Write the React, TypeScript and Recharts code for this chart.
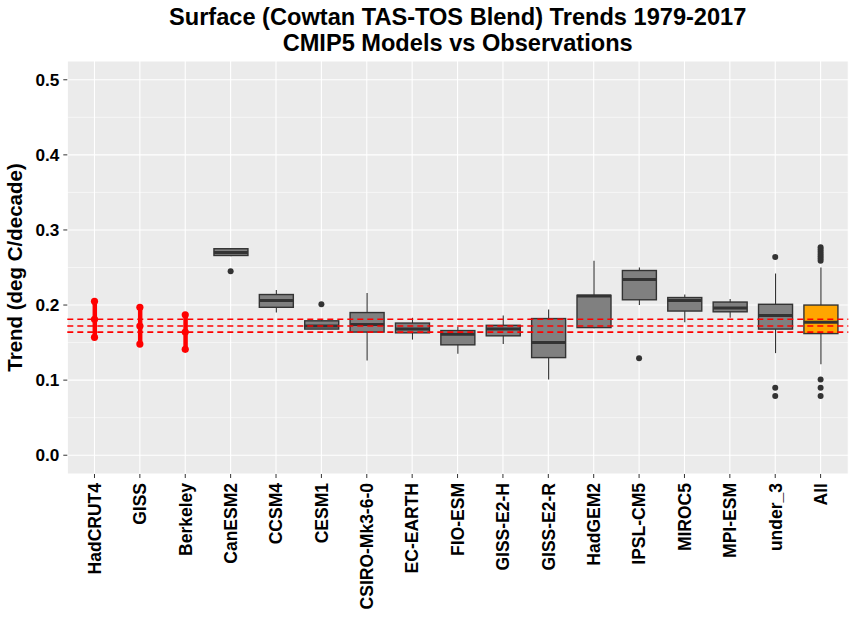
import {
  ComposedChart,
  Bar,
  Line,
  XAxis,
  YAxis,
  CartesianGrid,
  ReferenceLine,
} from "recharts";

// observations: centre trend and the range drawn as a red bar
const obsNames = ["HadCRUT4", "GISS", "Berkeley"];
const obsMid = [0.181, 0.172, 0.164];
const obsLow = [0.157, 0.148, 0.141];
const obsHigh = [0.205, 0.197, 0.187];

// model ensembles (box plot stats)
const modelNames = [
  "CanESM2", "CCSM4", "CESM1", "CSIRO-Mk3-6-0", "EC-EARTH", "FIO-ESM", "GISS-E2-H",
  "GISS-E2-R", "HadGEM2", "IPSL-CM5", "MIROC5", "MPI-ESM", "under_3", "All",
];
const whiskerLow = [0.265, 0.19, 0.168, 0.126, 0.154, 0.135, 0.148, 0.101, 0.169, 0.2, 0.177, 0.183, 0.136, 0.121];
const q1 = [0.266, 0.197, 0.168, 0.164, 0.163, 0.147, 0.159, 0.13, 0.17, 0.207, 0.192, 0.191, 0.168, 0.162];
const median = [0.27, 0.206, 0.172, 0.174, 0.168, 0.161, 0.168, 0.15, 0.212, 0.234, 0.206, 0.196, 0.186, 0.177];
const q3 = [0.275, 0.214, 0.179, 0.19, 0.176, 0.166, 0.173, 0.182, 0.213, 0.246, 0.21, 0.204, 0.201, 0.2];
const whiskerHigh = [0.276, 0.22, 0.18, 0.216, 0.183, 0.171, 0.186, 0.194, 0.259, 0.25, 0.214, 0.208, 0.242, 0.25];

const outliers: Record<string, number[]> = {
  CanESM2: [0.245],
  CESM1: [0.201],
  "IPSL-CM5": [0.129],
  under_3: [0.264, 0.09, 0.079],
  All: [0.277, 0.274, 0.271, 0.268, 0.265, 0.262, 0.259, 0.101, 0.09, 0.079],
};

const yTicks = [0, 0.1, 0.2, 0.3, 0.4, 0.5];
const yMinor = [0.05, 0.15, 0.25, 0.35, 0.45];
const MAX_OUT = 10;
const outKeys = Array.from({ length: MAX_OUT }, (_, i) => `out${i}`);

const data = [
  ...obsNames.map((name, i) => ({
    name,
    kind: "obs",
    span: [obsLow[i], obsHigh[i]],
    obsLo: obsLow[i],
    obsMid: obsMid[i],
    obsHi: obsHigh[i],
  })),
  ...modelNames.map((name, i) => {
    const row: any = {
      name,
      kind: "model",
      span: [whiskerLow[i], whiskerHigh[i]],
      box: [q1[i], q3[i]],
      med: median[i],
      fill: name === "All" ? "#FFA500" : "#808080",
    };
    (outliers[name] || []).forEach((v, j) => (row[`out${j}`] = v));
    return row;
  }),
];

const font = "'Liberation Sans', Arial, sans-serif";

function SpanShape(props: any) {
  const { x, y, width, height, payload } = props;
  const cx = x + width / 2;
  const top = Math.min(y, y + height);
  const bottom = Math.max(y, y + height);
  if (payload.kind === "obs") {
    return <line x1={cx} x2={cx} y1={top} y2={bottom} stroke="#FF0000" strokeWidth={4.5} />;
  }
  return <line x1={cx} x2={cx} y1={top} y2={bottom} stroke="#333333" strokeWidth={1.1} />;
}

function BoxShape(props: any) {
  const { x, y, width, height, payload } = props;
  const top = Math.min(y, y + height);
  const h = Math.abs(height);
  const [lo, hi] = payload.box;
  const my = top + (h * (hi - payload.med)) / (hi - lo);
  return (
    <g>
      <rect x={x} y={top} width={width} height={h} fill={payload.fill} stroke="#333333" strokeWidth={1.4} />
      <line x1={x} x2={x + width} y1={my} y2={my} stroke="#333333" strokeWidth={3} />
    </g>
  );
}

function XTick({ x, y, payload }: any) {
  return (
    <text
      x={x}
      y={y}
      dy="0.36em"
      transform={`rotate(-90 ${x} ${y})`}
      textAnchor="end"
      fontFamily={font}
      fontWeight="bold"
      fontSize={17.5}
      fill="#000"
    >
      {payload.value}
    </text>
  );
}

export default function App() {
  return (
    <div style={{ position: "relative", width: 856, height: 642 }}>
      <style>{"body{margin:0;background:#fff}"}</style>
      <ComposedChart
        width={856}
        height={642}
        data={data}
        margin={{ top: 61, right: 7.7, left: 0, bottom: 0 }}
        barCategoryGap={0}
      >
        <CartesianGrid xAxisId="cat" fill="#EBEBEB" fillOpacity={1} stroke="#FFFFFF" strokeWidth={1.1} />
        <CartesianGrid xAxisId="cat" vertical={false} horizontalValues={yMinor} stroke="#FFFFFF" strokeWidth={0.55} />
        <XAxis
          xAxisId="cat"
          dataKey="name"
          type="category"
          height={168}
          padding={{ left: 4.5, right: 5 }}
          interval={0}
          axisLine={false}
          tickSize={4}
          tickMargin={5}
          tickLine={{ stroke: "#333333" }}
          tick={<XTick />}
        />
        <XAxis xAxisId="w" dataKey="name" type="category" hide padding={{ left: 4.5, right: 5 }} />
        <YAxis
          domain={[-0.025, 0.525]}
          allowDataOverflow
          ticks={yTicks}
          tickFormatter={(v) => v.toFixed(1)}
          width={67.3}
          axisLine={false}
          tickSize={4}
          tickMargin={4}
          tickLine={{ stroke: "#333333" }}
          tick={{ fill: "#000", fontSize: 17.2, fontWeight: "bold", fontFamily: font }}
        />
        <Bar xAxisId="w" dataKey="span" barSize={34} shape={<SpanShape />} isAnimationActive={false} />
        <Bar xAxisId="cat" dataKey="box" barSize={34} shape={<BoxShape />} isAnimationActive={false} />
        {outKeys.map((k) => (
          <Line
            key={k}
            xAxisId="cat"
            dataKey={k}
            stroke="none"
            dot={{ r: 3, fill: "#333333", stroke: "none" }}
            activeDot={false}
            isAnimationActive={false}
          />
        ))}
        {["obsLo", "obsMid", "obsHi"].map((k) => (
          <Line
            key={k}
            xAxisId="cat"
            dataKey={k}
            stroke="none"
            dot={{ r: 3.6, fill: "#FF0000", stroke: "none" }}
            activeDot={false}
            isAnimationActive={false}
          />
        ))}
        {obsMid.map((v) => (
          <ReferenceLine
            key={v}
            xAxisId="cat"
            y={v}
            stroke="#FF0000"
            strokeWidth={1.6}
            strokeDasharray="6 4"
          />
        ))}
      </ComposedChart>
      <svg
        width={856}
        height={642}
        style={{ position: "absolute", left: 0, top: 0, pointerEvents: "none" }}
      >
        <text x={457.7} y={25} textAnchor="middle" fontFamily={font} fontWeight="bold" fontSize={23.6}>
          Surface (Cowtan TAS-TOS Blend) Trends 1979-2017
        </text>
        <text x={457.7} y={51} textAnchor="middle" fontFamily={font} fontWeight="bold" fontSize={23.6}>
          CMIP5 Models vs Observations
        </text>
        <text
          x={22}
          y={267.5}
          textAnchor="middle"
          transform="rotate(-90 22 267.5)"
          fontFamily={font}
          fontWeight="bold"
          fontSize={20.5}
        >
          Trend (deg C/decade)
        </text>
      </svg>
    </div>
  );
}
